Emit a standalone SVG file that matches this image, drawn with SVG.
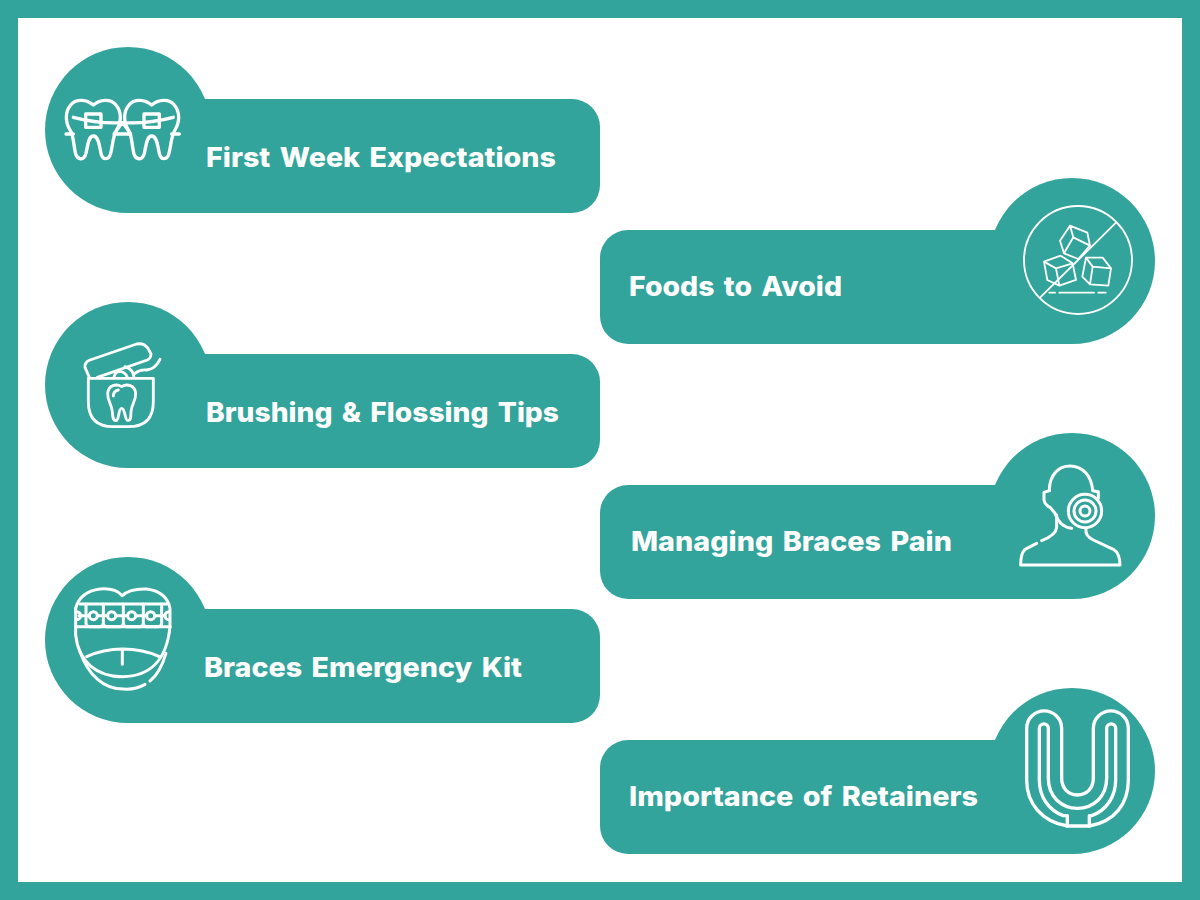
<svg xmlns="http://www.w3.org/2000/svg" width="1200" height="900" viewBox="0 0 1200 900">
<style>
.bg{fill:#32a49b}
.t{font-family:"Inter","Liberation Sans",sans-serif;font-weight:800;font-size:27px;word-spacing:3px;fill:#fff}
.i{fill:none;stroke:#fff;stroke-linecap:round;stroke-linejoin:round}
</style>
<defs>
<path id="tooth" d="M160,195C140,178 108,175 92,195C75,215 75,245 90,270C103,290 100,320 108,345C114,360 132,362 138,340C143,318 145,288 160,288C176,288 178,318 183,340C188,362 207,360 212,340C218,318 218,290 230,270C245,245 245,215 228,195C212,175 180,178 160,195Z"/>
</defs>
<rect x="9" y="9" width="1182" height="882" fill="#fff" stroke="#32a49b" stroke-width="18"/>

<g id="node-first-week">
<circle class="bg" cx="128" cy="130" r="83"/>
<path class="bg" d="M128,99H572A28,28 0 0 1 600,127V185A28,28 0 0 1 572,213H128Z"/>
<g class="i" transform="translate(40 40) scale(.3333)" stroke-width="10">
<use href="#tooth"/><use href="#tooth" x="175"/>
<path d="M100,232Q175,252 248,248Q325,252 400,232"/>
<rect x="137" y="222" width="46" height="40"/><rect x="312" y="222" width="46" height="40"/>
<path d="M78,282H100M222,282H272M395,282H418M245,250L222,282M250,250L272,282"/>
</g>
<text class="t" x="206" y="167" textLength="350" lengthAdjust="spacingAndGlyphs">First Week Expectations</text>
</g>

<g id="node-foods">
<circle class="bg" cx="1072" cy="261" r="83"/>
<path class="bg" d="M1072,230H628A28,28 0 0 0 600,258V316A28,28 0 0 0 628,344H1072Z"/>
<g class="i" transform="translate(1000 185) scale(.3333)" stroke-width="5.500">
<circle cx="234" cy="225" r="162"/>
<path d="M348,113L120,338"/>
<path d="M210,122L262,143L270,182L235,222L192,205L180,167ZM210,122L220,157L270,182M220,157L192,205"/>
<path d="M132,230L182,212L218,235L228,285L178,302L142,285ZM132,230L168,250L218,235M168,250L178,302"/>
<path d="M258,218L308,218L333,250L325,302L270,298L247,275ZM258,218L278,245L333,250M278,245L270,298"/>
<path d="M148,323H165M178,323H282M295,323H317"/>
</g>
<text class="t" x="629" y="296" textLength="213" lengthAdjust="spacingAndGlyphs">Foods to Avoid</text>
</g>

<g id="node-brushing">
<circle class="bg" cx="128" cy="385" r="83"/>
<path class="bg" d="M128,354H572A28,28 0 0 1 600,382V440A28,28 0 0 1 572,468H128Z"/>
<g class="i" transform="translate(60 330) scale(.3333)" stroke-width="8.500">
<path d="M85,145H280V215Q280,290 205,290H160Q85,290 85,215Z"/>
<path d="M88,142L75,112Q73,97 90,90L230,42Q252,38 264,55L273,72Q273,85 262,90L112,142"/>
<path d="M162,142Q165,125 180,125Q195,125 202,142M195,110Q220,118 222,142"/>
<path d="M225,130Q240,118 260,120Q285,118 300,88"/>
<path d="M185,170C170,160 145,165 143,190C142,212 155,222 157,245C158,260 158,272 168,272C178,272 174,235 185,235C196,235 194,272 204,272C214,272 212,260 213,245C215,222 228,212 227,190C225,165 200,160 185,170Z"/>
<path d="M160,198Q160,183 175,180"/>
</g>
<text class="t" x="206" y="422" textLength="353" lengthAdjust="spacingAndGlyphs">Brushing &amp; Flossing Tips</text>
</g>

<g id="node-managing">
<circle class="bg" cx="1072" cy="516" r="83"/>
<path class="bg" d="M1072,485H628A28,28 0 0 0 600,513V571A28,28 0 0 0 628,599H1072Z"/>
<g class="i" transform="translate(1000 450) scale(.3333)" stroke-width="9">
<path d="M148,122C148,70 180,48 210,48C250,48 275,80 278,122L295,125V145"/>
<path d="M148,122L132,127V150Q135,165 150,172L165,190Q180,232 215,235"/>
<path d="M170,195V232Q168,255 125,272M110,280L75,298Q62,310 62,345H360Q360,310 340,298L280,270Q255,258 258,238"/>
<circle cx="255" cy="183" r="50"/><circle cx="255" cy="183" r="33"/><circle cx="255" cy="183" r="15"/>
</g>
<text class="t" x="631" y="551" textLength="321" lengthAdjust="spacingAndGlyphs">Managing Braces Pain</text>
</g>

<g id="node-kit">
<circle class="bg" cx="128" cy="640" r="83"/>
<path class="bg" d="M128,609H572A28,28 0 0 1 600,637V695A28,28 0 0 1 572,723H128Z"/>
<g class="i" transform="translate(60 575) scale(.3333)" stroke-width="9">
<path d="M47,100Q60,50 120,42Q165,38 187,62Q210,40 260,42Q320,50 330,100V155"/>
<path d="M47,100V180C55,260 110,305 187,305C265,305 320,260 330,155"/>
<path d="M60,230C85,300 130,342 190,342Q225,345 255,328M270,318Q300,295 318,235"/>
<path d="M80,245Q130,222 187,222Q250,222 298,245M187,228V268"/>
<path d="M60,87H320M47,155H330"/>
<path d="M78,87V145Q78,155 88,155H120Q130,155 130,145V87M130,145Q130,155 140,155H180Q190,155 190,145V87M190,145Q190,155 200,155H240Q250,155 250,145V87M250,145Q250,155 260,155H295Q305,155 305,145V87"/>
<path d="M57,122H88M112,122H143M167,122H203M227,122H260M284,122H315"/>
<circle cx="100" cy="122" r="12"/><circle cx="155" cy="122" r="12"/><circle cx="215" cy="122" r="12"/><circle cx="272" cy="122" r="12"/>
<path d="M50,110A12,12 0 0 1 50,134M327,110A12,12 0 0 0 327,134"/>
</g>
<text class="t" x="204" y="677" textLength="318" lengthAdjust="spacingAndGlyphs">Braces Emergency Kit</text>
</g>

<g id="node-retainers">
<circle class="bg" cx="1072" cy="771" r="83"/>
<path class="bg" d="M1072,740H628A28,28 0 0 0 600,768V826A28,28 0 0 0 628,854H1072Z"/>
<g class="i" transform="translate(1010 700) scale(.3333)" stroke-width="10">
<path d="M172,378C95,365 50,310 50,240V85A52,52 0 0 1 155,85V235C155,265 175,285 202,285C230,285 250,265 250,235V85A52,52 0 0 1 355,85V240C355,310 315,365 238,378Z"/>
<path d="M172,378V347H160C115,330 88,290 88,240V85A13.500,13.500 0 0 1 115,85V235C115,290 155,325 202,325C250,325 290,290 290,235V85A13.500,13.500 0 0 1 317,85V240C317,290 290,330 245,347H238V378"/>
</g>
<text class="t" x="629" y="806" textLength="349" lengthAdjust="spacingAndGlyphs">Importance of Retainers</text>
</g>
</svg>
